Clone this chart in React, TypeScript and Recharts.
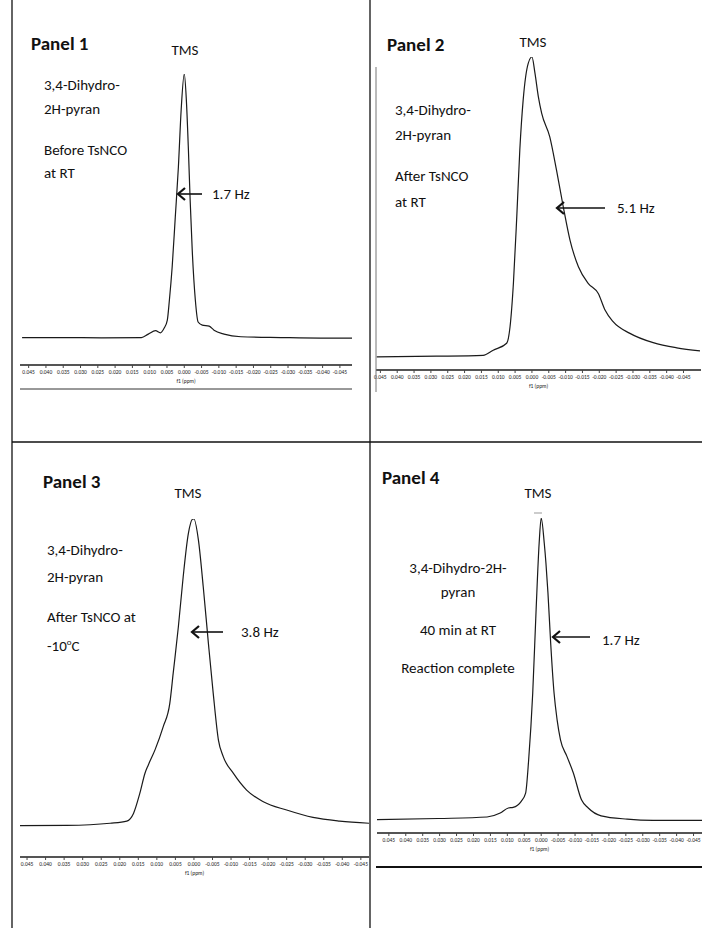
import { LineChart, Line, XAxis, YAxis } from 'recharts';

// chemical shift ticks (ppm), same on all four spectra
const ppmTicks = [0.045, 0.04, 0.035, 0.03, 0.025, 0.02, 0.015, 0.01, 0.005, 0, -0.005, -0.01, -0.015, -0.02, -0.025, -0.03, -0.035, -0.04, -0.045];

// Panel 1 - before TsNCO at RT
const shift1 = [0.0469, 0.0354, 0.0239, 0.0124, 0.0104, 0.0083, 0.0069, 0.0058, 0.0049, 0.0043, 0.0035, 0.0026, 0.0017, 0.0009, 0, -0.0006, -0.0012, -0.0017, -0.0023, -0.0032, -0.004, -0.0052, -0.0072, -0.0086, -0.0115, -0.0164, -0.0279, -0.0394, -0.0486];
const signal1 = [0.002, 0.002, 0.001, 0.002, 0.015, 0.028, 0.02, 0.038, 0.068, 0.144, 0.269, 0.458, 0.648, 0.864, 1.0, 0.902, 0.712, 0.523, 0.333, 0.144, 0.061, 0.049, 0.045, 0.03, 0.015, 0.005, 0.002, 0.0, 0.0];

// Panel 2 - after TsNCO at RT
const shift2 = [0.0461, 0.0283, 0.0145, 0.0115, 0.0075, 0.0065, 0.0055, 0.0045, 0.0036, 0.0026, 0.0011, 0, -0.0009, -0.0019, -0.0029, -0.0053, -0.0073, -0.0093, -0.0113, -0.0138, -0.0167, -0.0197, -0.0217, -0.0241, -0.0291, -0.036, -0.043, -0.0499];
const signal2 = [0.001, 0.003, 0.006, 0.023, 0.046, 0.101, 0.246, 0.468, 0.69, 0.857, 0.979, 1.0, 0.946, 0.868, 0.812, 0.734, 0.623, 0.501, 0.39, 0.301, 0.246, 0.212, 0.157, 0.118, 0.079, 0.048, 0.031, 0.021];

// Panel 3 - after TsNCO at -10 C
const shift3 = [0.0469, 0.0343, 0.0226, 0.0181, 0.0163, 0.0146, 0.0132, 0.0123, 0.0105, 0.0083, 0.0065, 0.0056, 0.0042, 0.0029, 0.0015, 0.0004, 0, -0.0012, -0.0025, -0.0039, -0.0052, -0.0066, -0.0079, -0.0106, -0.0142, -0.0187, -0.025, -0.0321, -0.0393, -0.0472];
const signal3 = [0.001, 0.002, 0.009, 0.016, 0.041, 0.106, 0.172, 0.199, 0.248, 0.323, 0.4, 0.497, 0.649, 0.812, 0.953, 0.999, 1.0, 0.932, 0.78, 0.595, 0.432, 0.28, 0.226, 0.172, 0.117, 0.079, 0.052, 0.028, 0.016, 0.009];

// Panel 4 - 40 min at RT
const shift4 = [0.0485, 0.0304, 0.016, 0.0121, 0.0097, 0.0083, 0.0059, 0.0046, 0.0037, 0.0025, 0.0015, 0.0006, 0, -0.0009, -0.0014, -0.002, -0.0028, -0.0038, -0.0047, -0.0057, -0.0076, -0.0095, -0.0119, -0.0139, -0.0177, -0.0254, -0.0331, -0.0475];
const signal4 = [0.0, 0.004, 0.009, 0.022, 0.039, 0.041, 0.061, 0.088, 0.199, 0.42, 0.696, 0.917, 1.0, 0.917, 0.851, 0.751, 0.586, 0.42, 0.331, 0.265, 0.21, 0.155, 0.066, 0.039, 0.013, 0.002, -0.002, -0.002];

const toPoints = (xs: number[], ys: number[]) => xs.map((x, i) => ({ x, y: ys[i] }));

const FONT = 'Carlito, Lato, sans-serif';

type SpecProps = {
  left: number;
  top: number;
  width: number;
  plotHeight: number;
  xDomain: [number, number];
  yMin: number;
  data: { x: number; y: number }[];
};

// side padding so the end tick labels are not clipped
const SIDE = 12;

const Spectrum = ({ left, top, width, plotHeight, xDomain, yMin, data }: SpecProps) => {
  const pad = 8;
  const axisH = 22;
  return (
    <div style={{ position: 'absolute', left: left - SIDE, top: top - pad }}>
      <LineChart width={width + SIDE * 2} height={plotHeight + pad + axisH} data={data} margin={{ top: pad, right: SIDE, bottom: 0, left: SIDE }}>
        <XAxis
          dataKey="x"
          type="number"
          domain={xDomain}
          reversed
          allowDataOverflow
          ticks={ppmTicks}
          interval={0}
          tickFormatter={(v: number) => v.toFixed(3)}
          tick={{ fontSize: 5.5, fill: '#222', fontFamily: FONT }}
          tickSize={3}
          tickMargin={2}
          height={axisH}
          axisLine={{ stroke: '#555', strokeWidth: 2 }}
          tickLine={{ stroke: '#444' }}
          label={{ value: 'f1 (ppm)', position: 'insideBottom', offset: 4, fontSize: 5.5, fill: '#222', fontFamily: FONT }}
        />
        <YAxis hide type="number" domain={[yMin, 1]} allowDataOverflow />
        <Line dataKey="y" type="monotone" stroke="#1a1a1a" strokeWidth={1.2} dot={false} isAnimationActive={false} />
      </LineChart>
    </div>
  );
};

const T = ({ x, y, size = 15, bold = false, center = false, children }: any) => (
  <div
    style={{
      position: 'absolute',
      left: center ? x - 150 : x,
      width: center ? 300 : undefined,
      textAlign: center ? 'center' : 'left',
      top: y - size * 0.6,
      fontSize: size,
      lineHeight: `${size * 1.2}px`,
      fontWeight: bold ? 700 : 400,
      fontFamily: FONT,
      color: '#111',
      whiteSpace: 'nowrap',
    }}
  >
    {children}
  </div>
);

const Arrow = ({ tip, tail, y }: { tip: number; tail: number; y: number }) => (
  <g stroke="#111" fill="none">
    <line x1={tip + 1} y1={y} x2={tail} y2={y} strokeWidth={1.6} />
    <polyline points={`${tip + 7},${y - 6} ${tip},${y} ${tip + 7},${y + 6}`} strokeWidth={2.2} />
  </g>
);

export default function App() {
  return (
    <div style={{ position: 'absolute', left: 0, top: 0, width: 702, height: 928, background: '#fff', fontFamily: FONT, overflow: 'hidden' }}>
      <Spectrum left={20} top={74} width={332} plotHeight={291} xDomain={[-0.0485, 0.0475]} yMin={-0.102} data={toPoints(shift1, signal1)} />
      <Spectrum left={376} top={57} width={325} plotHeight={313} xDomain={[-0.0502, 0.0463]} yMin={-0.043} data={toPoints(shift2, signal2)} />
      <Spectrum left={20} top={519} width={349} plotHeight={338} xDomain={[-0.0472, 0.0469]} yMin={-0.101} data={toPoints(shift3, signal3)} />
      <Spectrum left={377} top={518} width={325} plotHeight={315} xDomain={[-0.0475, 0.0485]} yMin={-0.044} data={toPoints(shift4, signal4)} />

      <svg width={702} height={928} style={{ position: 'absolute', left: 0, top: 0, pointerEvents: 'none' }}>
        {/* table grid */}
        <line x1={12} y1={0} x2={12} y2={928} stroke="#111" strokeWidth={1.3} />
        <line x1={370} y1={0} x2={370} y2={928} stroke="#111" strokeWidth={1.3} />
        <line x1={12} y1={442} x2={702} y2={442} stroke="#111" strokeWidth={1.3} />
        {/* scan leftovers */}
        <line x1={20} y1={389} x2={352} y2={389} stroke="#333" strokeWidth={1} />
        <line x1={376} y1={67} x2={376} y2={392} stroke="#777" strokeWidth={1} />
        <line x1={376} y1={867} x2={702} y2={867} stroke="#111" strokeWidth={2.2} />
        <line x1={534} y1={513} x2={542} y2={513} stroke="#999" strokeWidth={1} />
        <Arrow tip={178} tail={202} y={194} />
        <Arrow tip={557} tail={605} y={208} />
        <Arrow tip={192} tail={223} y={632} />
        <Arrow tip={553} tail={590} y={637} />
      </svg>

      <T x={31} y={44} size={19} bold>Panel 1</T>
      <T x={185} y={50} center>TMS</T>
      <T x={44} y={85}>3,4-Dihydro-</T>
      <T x={44} y={109}>2H-pyran</T>
      <T x={44} y={150}>Before TsNCO</T>
      <T x={44} y={173}>at RT</T>
      <T x={212} y={194}>1.7 Hz</T>

      <T x={387} y={45} size={19} bold>Panel 2</T>
      <T x={533} y={42} center>TMS</T>
      <T x={395} y={110}>3,4-Dihydro-</T>
      <T x={395} y={135}>2H-pyran</T>
      <T x={395} y={176}>After TsNCO</T>
      <T x={395} y={202}>at RT</T>
      <T x={617} y={208}>5.1 Hz</T>

      <T x={43} y={482} size={19} bold>Panel 3</T>
      <T x={188} y={493} center>TMS</T>
      <T x={47} y={550}>3,4-Dihydro-</T>
      <T x={47} y={577}>2H-pyran</T>
      <T x={47} y={617}>After TsNCO at</T>
      <T x={47} y={642}>-10<sup style={{ fontSize: 9 }}>o</sup>C</T>
      <T x={241} y={632}>3.8 Hz</T>

      <T x={382} y={478} size={19} bold>Panel 4</T>
      <T x={538} y={493} center>TMS</T>
      <T x={458} y={568} center>3,4-Dihydro-2H-</T>
      <T x={458} y={592} center>pyran</T>
      <T x={458} y={630} center>40 min at RT</T>
      <T x={458} y={668} center>Reaction complete</T>
      <T x={602} y={640}>1.7 Hz</T>
    </div>
  );
}
